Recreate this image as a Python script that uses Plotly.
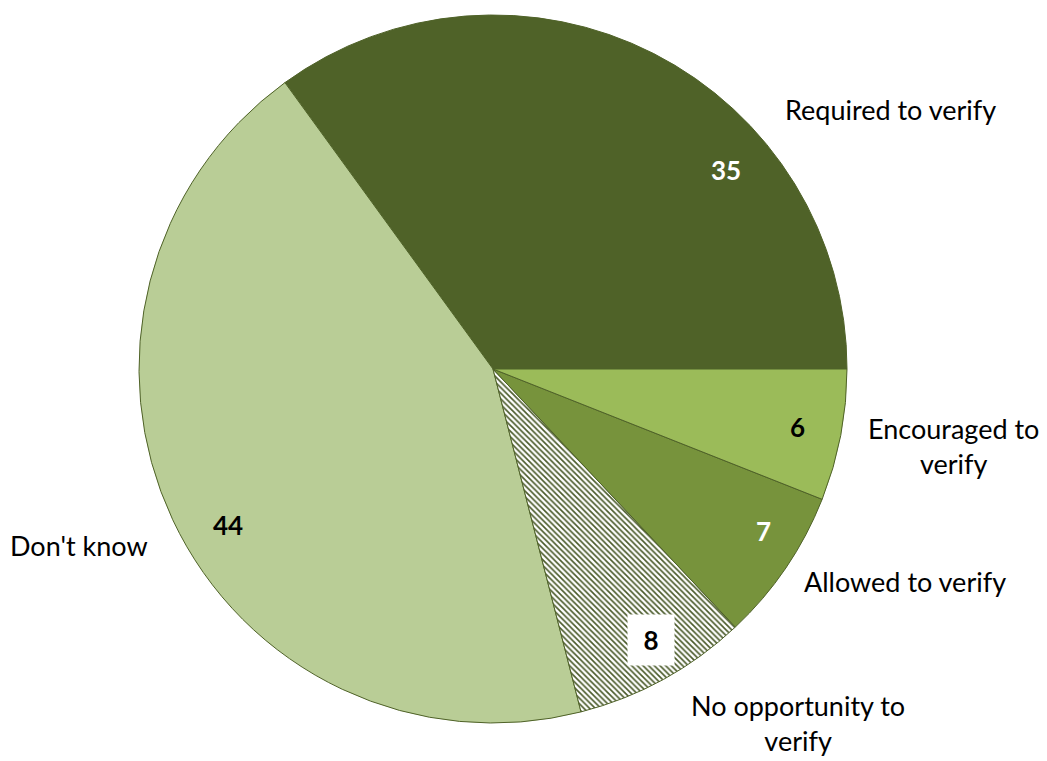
import math
import plotly.graph_objects as go

# Survey responses (percent)
categories = ["Required to verify", "Don't know", "No opportunity to verify",
              "Allowed to verify", "Encouraged to verify"]
values = [35, 44, 8, 7, 6]
label_text = ["Required to verify", "Don't know", "No opportunity to<br>verify",
              "Allowed to verify", "Encouraged to<br>verify"]

# Slice styling
colors = ["#4F6228", "#B9CD96", "#FFFFFF", "#77933C", "#9BBB59"]
patterns = ["", "", "\\", "", ""]
value_colors = ["white", "black", "black", "white", "black"]
value_bg = ["rgba(0,0,0,0)", "rgba(0,0,0,0)", "white", "rgba(0,0,0,0)", "rgba(0,0,0,0)"]

W, H = 1047, 761
CX, CY, R = 493, 369, 354  # pie centre and radius in pixels
FONT = "Lato, 'Open Sans', sans-serif"

# Label placement: angular nudge from slice mid-angle and radius factor
value_nudge = [-22.5, 5.3, 1.5, 3.2, 0.0]
value_rad = [0.865, 0.87, 0.887, 0.89, 0.877]
name_nudge = [-29.9, -2.1, 11.9, 6.9, 1.3]
name_rad = [1.34, 1.27, 1.32, 1.31, 1.32]

total = sum(values)
# first slice ends at 3 o'clock and the rest run counterclockwise from there
rotation = 90 - 360.0 * values[0] / total

fig = go.Figure(go.Pie(
    labels=categories,
    values=values,
    sort=False,
    direction="counterclockwise",
    rotation=rotation,
    textinfo="none",
    hoverinfo="label+value",
    marker=dict(
        colors=colors,
        line=dict(color="#4F6228", width=1),
        pattern=dict(shape=patterns, fgcolor="#4A5A2A", bgcolor="white",
                     size=4, solidity=0.4),
    ),
    domain=dict(x=[(CX - R) / W, (CX + R) / W],
                y=[(H - CY - R) / H, (H - CY + R) / H]),
    showlegend=False,
))

start = 0.0
annotations = []
for i, v in enumerate(values):
    span = 360.0 * v / total
    mid = start + span / 2
    start += span
    a = math.radians(mid + value_nudge[i])
    px = CX + value_rad[i] * R * math.cos(a)
    py = CY - value_rad[i] * R * math.sin(a)
    boxed = value_bg[i] == "white"
    annotations.append(dict(
        x=px / W, y=1 - py / H, xref="paper", yref="paper",
        xanchor="center", yanchor="middle",
        text=f"<b>{v}</b>", showarrow=False,
        font=dict(family=FONT, size=26, color=value_colors[i]),
        bgcolor=value_bg[i], borderpad=9,
        width=28 if boxed else None,
    ))
    a = math.radians(mid + name_nudge[i])
    px = CX + name_rad[i] * R * math.cos(a)
    py = CY - name_rad[i] * R * math.sin(a)
    annotations.append(dict(
        x=px / W, y=1 - py / H, xref="paper", yref="paper",
        xanchor="center", yanchor="middle",
        text=label_text[i], showarrow=False, align="center",
        font=dict(family=FONT, size=27, color="black"),
    ))

fig.update_layout(
    width=W, height=H,
    margin=dict(l=0, r=0, t=0, b=0),
    paper_bgcolor="white",
    plot_bgcolor="white",
    annotations=annotations,
)

fig.write_html("out.html")
